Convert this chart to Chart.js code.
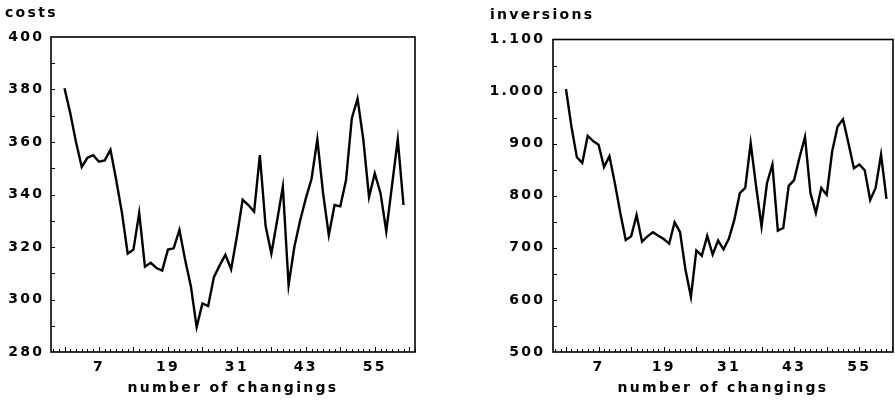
<!DOCTYPE html>
<html>
<head>
<meta charset="utf-8">
<script src="https://cdn.jsdelivr.net/npm/chart.js@4"></script>
<style>
  html, body { margin: 0; padding: 0; background: #fff; }
  #wrap { position: relative; width: 895px; height: 402px; overflow: hidden; }
  canvas { position: absolute; top: 0; }
  #costsChart { left: 0; }
  #inversionsChart { left: 450px; }
</style>
</head>
<body>
<div id="wrap">
  <canvas id="costsChart" width="440" height="402"></canvas>
  <canvas id="inversionsChart" width="445" height="402"></canvas>
</div>
<script>
// x values: number of changings
const changings = [1, 2, 3, 4, 5, 6, 7, 8, 9, 10, 11, 12, 13, 14, 15, 16, 17, 18, 19, 20,
  21, 22, 23, 24, 25, 26, 27, 28, 29, 30, 31, 32, 33, 34, 35, 36, 37, 38, 39, 40,
  41, 42, 43, 44, 45, 46, 47, 48, 49, 50, 51, 52, 53, 54, 55, 56, 57, 58, 59, 60];

const costs = [380.5, 371, 360, 350.5, 354, 355, 352.5, 353, 357, 345.5,
  333, 317.5, 319, 333, 312.5, 314, 312, 311, 319, 319.5,
  326.5, 315, 305, 289.5, 298.5, 297.5, 308.5, 313, 317, 311.5,
  324, 338, 336, 333.5, 355, 328, 317.5, 330, 343, 305.5,
  320, 330, 338.5, 346, 361, 340.5, 324.5, 336, 335.5, 345.5,
  369, 376.5, 361, 339, 348, 340.5, 326, 343.5, 361, 336];

const inversions = [1005, 933, 874, 863, 915, 905, 898, 855, 876, 824,
  767, 715, 722, 763, 712, 722, 730, 723, 717, 708,
  749, 730, 658, 606, 695, 685, 723, 687, 714, 697,
  718, 754, 805, 815, 901, 818, 741, 824, 860, 733,
  738, 819, 830, 874, 913, 805, 767, 815, 802, 885,
  933, 947, 901, 853, 860, 849, 792, 815, 879, 794];

const xTickLabels = [7, 19, 31, 43, 55];

const FONT = '"DejaVu Sans", Verdana, sans-serif';

// wide lettering like the scanned original
const spacingPlugin = {
  id: 'spacing',
  beforeUpdate(chart) { chart.ctx.letterSpacing = '2.3px'; },
  beforeDraw(chart) { chart.ctx.letterSpacing = '2.3px'; }
};

// frame around the plot plus small inward ticks
const framePlugin = {
  id: 'frame',
  afterDatasetsDraw(chart, args, opts) {
    const { ctx, chartArea: a, scales: { x, y } } = chart;
    ctx.save();
    ctx.strokeStyle = '#000';
    ctx.lineWidth = 1;
    ctx.beginPath();
    for (let v = Math.ceil(x.min); v <= x.max; v++) {
      const px = Math.round(x.getPixelForValue(v)) + 0.5;
      const len = (v - 1) % 6 === 0 ? 5 : 3;
      ctx.moveTo(px, a.bottom);
      ctx.lineTo(px, a.bottom - len);
    }
    for (let v = y.min + opts.yMinor; v < y.max; v += opts.yMinor) {
      const py = Math.round(y.getPixelForValue(v)) + 0.5;
      ctx.moveTo(a.left, py);
      ctx.lineTo(a.left + 4, py);
    }
    ctx.stroke();
    ctx.lineWidth = 1.6;
    ctx.strokeRect(a.left, a.top, a.right - a.left, a.bottom - a.top);
    ctx.restore();
  }
};

function makeChart(canvasId, values, cfg) {
  const ctx = document.getElementById(canvasId).getContext('2d');
  return new Chart(ctx, {
    type: 'line',
    data: {
      datasets: [{
        data: changings.map((c, i) => ({ x: c, y: values[i] })),
        borderColor: '#000',
        borderWidth: 2.4,
        pointRadius: 0,
        tension: 0,
        fill: false
      }]
    },
    options: {
      responsive: false,
      animation: false,
      events: [],
      layout: { padding: cfg.padding },
      plugins: {
        legend: { display: false },
        tooltip: { enabled: false },
        title: {
          display: true,
          text: cfg.title,
          align: 'start',
          color: '#000',
          font: { family: FONT, size: 14, weight: 'bold' },
          padding: cfg.titlePadding
        },
        frame: { yMinor: cfg.yMinor }
      },
      scales: {
        x: {
          type: 'linear',
          min: cfg.xMin,
          max: cfg.xMax,
          grid: { display: false, drawTicks: false },
          border: { display: false },
          afterBuildTicks: s => { s.ticks = xTickLabels.map(v => ({ value: v })); },
          afterFit: s => { s.height = 50; },
          ticks: {
            autoSkip: false,
            maxRotation: 0,
            padding: 7,
            color: '#000',
            font: { family: FONT, size: 14, weight: 'bold' }
          },
          title: {
            display: true,
            text: 'number of changings',
            color: '#000',
            font: { family: FONT, size: 14, weight: 'bold' },
            padding: { top: 0, bottom: 5 }
          }
        },
        y: {
          min: cfg.yMin,
          max: cfg.yMax,
          grid: { display: false, drawTicks: false },
          border: { display: false },
          afterFit: s => { s.width = cfg.yWidth; },
          ticks: {
            stepSize: cfg.yStep,
            padding: cfg.yPad,
            color: '#000',
            font: { family: FONT, size: 14, weight: 'bold' },
            callback: cfg.yFormat
          }
        }
      }
    },
    plugins: [spacingPlugin, framePlugin]
  });
}

makeChart('costsChart', costs, {
  title: 'costs',
  padding: { left: 5, right: 25, top: 0, bottom: 0 },
  titlePadding: { top: 4.6, bottom: 15.6 },
  xMin: -1.35, xMax: 62,
  yMin: 280, yMax: 400, yStep: 20, yMinor: 10,
  yWidth: 46, yPad: 6.7,
  yFormat: v => String(v)
});

makeChart('inversionsChart', inversions, {
  title: 'inversions',
  padding: { left: 40, right: 2, top: 0, bottom: 0 },
  titlePadding: { top: 7.3, bottom: 15.4 },
  xMin: -1.39, xMax: 61.2,
  yMin: 500, yMax: 1100, yStep: 100, yMinor: 50,
  yWidth: 63, yPad: 7.7,
  yFormat: v => v >= 1000 ? (v / 1000).toFixed(3) : String(v)
});
</script>
</body>
</html>
